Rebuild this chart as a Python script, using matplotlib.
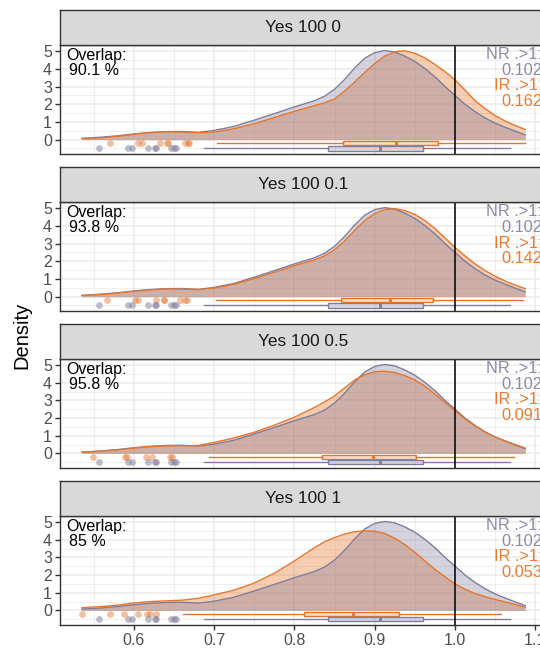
import matplotlib
matplotlib.use("Agg")
import matplotlib.pyplot as plt

plt.rcParams['font.family'] = ['Liberation Sans', 'DejaVu Sans']

# ---------------- data ----------------
facets = ["Yes 100 0", "Yes 100 0.1", "Yes 100 0.5", "Yes 100 1"]
overlap_pct = ["90.1 %", "93.8 %", "95.8 %", "85 %"]
nr_prob = ["0.102", "0.102", "0.102", "0.102"]
ir_prob = ["0.162", "0.142", "0.091", "0.053"]

x_grid = [0.535, 0.56, 0.58, 0.60, 0.62, 0.64, 0.66, 0.68, 0.70, 0.725, 0.75,
          0.775, 0.80, 0.825, 0.8375, 0.85, 0.8625, 0.875, 0.8875, 0.90, 0.9125, 0.925,
          0.9375, 0.95, 0.9625, 0.975, 0.9875, 1.0, 1.0125, 1.025, 1.0375,
          1.05, 1.0625, 1.075, 1.0875]

nr_density = [0.07, 0.14, 0.22, 0.32, 0.40, 0.45, 0.46, 0.41, 0.52, 0.75, 1.10,
              1.47, 1.85, 2.20, 2.45, 2.85, 3.40, 4.05, 4.60, 4.92, 5.03, 4.95,
              4.72, 4.42, 4.02, 3.55, 3.00, 2.50, 2.00, 1.58, 1.22,
              0.93, 0.70, 0.48, 0.27]

ir_density_0 = [0.05, 0.11, 0.18, 0.30, 0.40, 0.44, 0.43, 0.39, 0.43, 0.62, 0.90,
                1.25, 1.60, 1.92, 2.08, 2.30, 2.75, 3.25, 3.80, 4.30, 4.72, 4.97,
                5.02, 4.88, 4.62, 4.25, 3.85, 3.38, 2.80, 2.20, 1.75,
                1.36, 1.05, 0.80, 0.57]
ir_density_01 = [0.06, 0.12, 0.20, 0.30, 0.38, 0.43, 0.42, 0.40, 0.48, 0.70, 1.02,
                 1.38, 1.75, 2.08, 2.30, 2.65, 3.15, 3.75, 4.30, 4.70, 4.92, 4.97,
                 4.87, 4.65, 4.30, 3.85, 3.32, 2.78, 2.30, 1.85, 1.47,
                 1.15, 0.88, 0.65, 0.45]
ir_density_05 = [0.07, 0.13, 0.20, 0.30, 0.38, 0.42, 0.43, 0.45, 0.62, 0.88, 1.20,
                 1.60, 2.05, 2.60, 2.92, 3.25, 3.70, 4.15, 4.45, 4.62, 4.65, 4.57,
                 4.40, 4.15, 3.80, 3.35, 2.88, 2.42, 1.95, 1.55, 1.20,
                 0.92, 0.70, 0.50, 0.30]
ir_density_1 = [0.15, 0.22, 0.30, 0.42, 0.50, 0.54, 0.58, 0.68, 0.88, 1.15, 1.55,
                2.10, 2.80, 3.55, 3.88, 4.12, 4.32, 4.45, 4.50, 4.48, 4.35, 4.08,
                3.72, 3.28, 2.80, 2.32, 1.90, 1.50, 1.20, 0.95, 0.78,
                0.62, 0.48, 0.33, 0.18]
ir_densities = [ir_density_0, ir_density_01, ir_density_05, ir_density_1]

# box stats: whisker low, q1, median, q3, whisker high
nr_box = [0.687, 0.842, 0.907, 0.960, 1.069]
ir_box_0 = [0.703, 0.861, 0.926, 0.979, 1.0875]
ir_box_01 = [0.702, 0.858, 0.919, 0.972, 1.085]
ir_box_05 = [0.693, 0.834, 0.898, 0.952, 1.074]
ir_box_1 = [0.6615, 0.812, 0.8727, 0.9296, 1.0576]
ir_boxes = [ir_box_0, ir_box_01, ir_box_05, ir_box_1]

nr_points = [0.557, 0.592, 0.597, 0.618, 0.626, 0.627, 0.646, 0.650, 0.652]
ir_points_0 = [0.570, 0.605, 0.610, 0.632, 0.641, 0.642, 0.663, 0.667, 0.668]
ir_points_01 = [0.566, 0.601, 0.605, 0.628, 0.637, 0.638, 0.657, 0.664, 0.666]
ir_points_05 = [0.549, 0.589, 0.591, 0.615, 0.622, 0.645, 0.647]
ir_points_1 = [0.535, 0.570, 0.588, 0.605, 0.616, 0.620, 0.628]
ir_points = [ir_points_0, ir_points_01, ir_points_05, ir_points_1]

x_major = [0.6, 0.7, 0.8, 0.9, 1.0, 1.1]
x_labels = ["0.6", "0.7", "0.8", "0.9", "1.0", "1.1"]
x_minor = [0.55, 0.65, 0.75, 0.85, 0.95, 1.05]
y_major = [0, 1, 2, 3, 4, 5]
y_minor = [-0.5, 0.5, 1.5, 2.5, 3.5, 4.5]

# ---------------- style ----------------
NR_FILL = '#736C91'
IR_FILL = '#E6823E'
NR_LINE = '#7F7C9C'
IR_LINE = '#E8742A'
NR_TEXT = '#8C8AA6'
IR_TEXT = '#EC7A30'
GRID = '#EBEBEB'
BORDER = '#333333'
TICKTXT = '#4D4D4D'

W, H = 540, 649
fig = plt.figure(figsize=(W / 100, H / 100), dpi=100)
fig.patch.set_facecolor('white')

left_px, right_px = 59.5, 547.3
tops = [45, 202, 358.8, 515.8]
ph = 109.3
sh = 35


def stat(b):
    return [dict(whislo=b[0], q1=b[1], med=b[2], q3=b[3], whishi=b[4], fliers=[])]


for i in range(4):
    ax = fig.add_axes([left_px / W, 1 - (tops[i] + ph) / H,
                       (right_px - left_px) / W, ph / H])
    sax = fig.add_axes([left_px / W, 1 - tops[i] / H,
                        (right_px - left_px) / W, sh / H])

    # strip
    sax.set_facecolor('#D9D9D9')
    sax.set_xticks([])
    sax.set_yticks([])
    for s in sax.spines.values():
        s.set_color(BORDER)
        s.set_linewidth(1.0)
    sax.text(0.5, 0.5, facets[i], ha='center', va='center', fontsize=12.4,
             color='#1A1A1A', transform=sax.transAxes)

    # grid
    ax.set_xlim(0.5072, 1.115)
    ax.set_ylim(-0.83, 5.35)
    ax.set_xticks(x_major)
    ax.set_xticks(x_minor, minor=True)
    ax.set_yticks(y_major)
    ax.set_yticks(y_minor, minor=True)
    ax.grid(which='major', color=GRID, lw=1.1)
    ax.grid(which='minor', color=GRID, lw=0.55)
    ax.set_axisbelow(True)
    for s in ax.spines.values():
        s.set_color(BORDER)
        s.set_linewidth(1.0)
        s.set_zorder(10)

    ax.tick_params(which='minor', length=0)
    ax.tick_params(axis='y', which='major', length=3.5, width=1.0, color=BORDER,
                   labelsize=11.5, labelcolor=TICKTXT, pad=2)
    ax.set_yticklabels([str(v) for v in y_major])
    if i == 3:
        ax.set_xticklabels(x_labels)
        ax.tick_params(axis='x', which='major', length=3.5, width=1.0, color=BORDER,
                       labelsize=11.5, labelcolor=TICKTXT, pad=2)
    else:
        ax.tick_params(axis='x', which='major', length=0, labelbottom=False)

    # densities
    ird = ir_densities[i]
    ax.fill_between(x_grid, 0, ird, color=IR_FILL, alpha=0.4, lw=0, zorder=2)
    ax.fill_between(x_grid, 0, nr_density, color=NR_FILL, alpha=0.3, lw=0, zorder=2.1)
    ax.plot(x_grid, nr_density, color=NR_LINE, lw=1.0, zorder=3)
    ax.plot(x_grid, ird, color=IR_LINE, lw=1.0, zorder=3.1)

    # box fills (light)
    ax.bxp(stat(ir_boxes[i]), positions=[-0.2], widths=0.25, orientation='horizontal',
           showcaps=False, showfliers=False, patch_artist=True, manage_ticks=False,
           boxprops=dict(facecolor=IR_FILL, alpha=0.25, lw=0),
           whiskerprops=dict(lw=0), medianprops=dict(lw=0), zorder=3.5)
    ax.bxp(stat(nr_box), positions=[-0.5], widths=0.25, orientation='horizontal',
           showcaps=False, showfliers=False, patch_artist=True, manage_ticks=False,
           boxprops=dict(facecolor=NR_FILL, alpha=0.25, lw=0),
           whiskerprops=dict(lw=0), medianprops=dict(lw=0), zorder=3.5)
    # box outlines
    for b, pos, col in [(ir_boxes[i], -0.2, IR_LINE), (nr_box, -0.5, NR_LINE)]:
        ax.bxp(stat(b), positions=[pos], widths=0.25, orientation='horizontal',
               showcaps=False, showfliers=False, patch_artist=True,
               manage_ticks=False,
               boxprops=dict(facecolor=(1, 1, 1, 0), edgecolor=col, lw=1.0),
               whiskerprops=dict(color=col, lw=1.0),
               medianprops=dict(color=col, lw=2.0), zorder=4)

    # points
    ax.scatter(ir_points[i], [-0.2] * len(ir_points[i]), s=24, color=IR_FILL,
               alpha=0.5, lw=0, zorder=5)
    ax.scatter(nr_points, [-0.5] * len(nr_points), s=24, color=NR_LINE,
               alpha=0.5, lw=0, zorder=5)

    # reference line
    ax.axvline(1.0, color='black', lw=1.1, zorder=6)

    # annotations
    ax.text(0.0145, 1 - 15 / ph, "Overlap:", transform=ax.transAxes, ha='left',
            va='baseline', fontsize=11.5, color='black', zorder=7)
    ax.text(0.0195, 1 - 30 / ph, overlap_pct[i], transform=ax.transAxes, ha='left',
            va='baseline', fontsize=11.5, color='black', zorder=7)
    xr = (542 - left_px) / (right_px - left_px)
    ax.text(xr, 1 - 14 / ph, "NR .>1:", transform=ax.transAxes, ha='right',
            va='baseline', fontsize=11.8, color=NR_TEXT, zorder=7)
    ax.text(xr, 1 - 30 / ph, nr_prob[i], transform=ax.transAxes, ha='right',
            va='baseline', fontsize=11.8, color=NR_TEXT, zorder=7)
    ax.text(xr, 1 - 45.5 / ph, "IR .>1:", transform=ax.transAxes, ha='right',
            va='baseline', fontsize=11.8, color=IR_TEXT, zorder=7)
    ax.text(xr, 1 - 61 / ph, ir_prob[i], transform=ax.transAxes, ha='right',
            va='baseline', fontsize=11.8, color=IR_TEXT, zorder=7)

fig.text(22 / W, 1 - 335 / H, "Density", rotation=90, ha='center', va='center',
         fontsize=14.5, color='black')

fig.savefig("out.png", dpi=100, facecolor='white')
